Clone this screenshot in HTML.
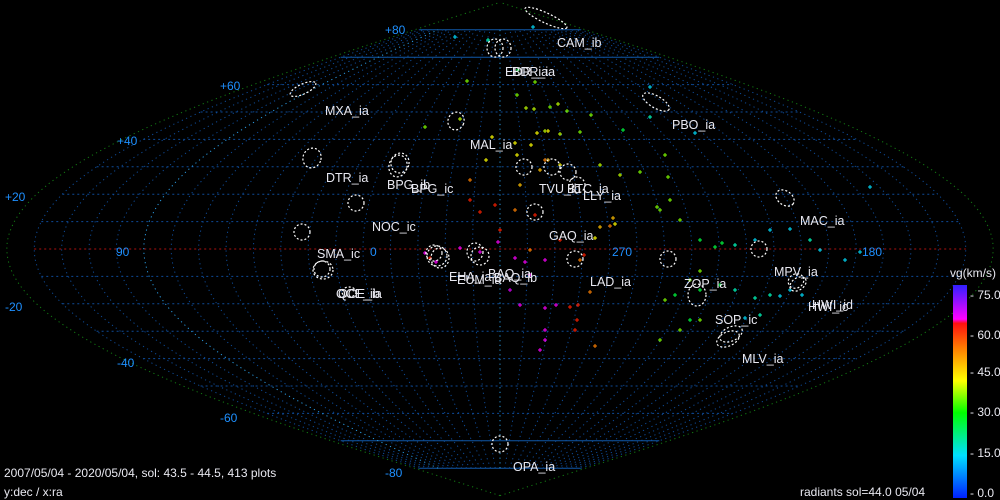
<!DOCTYPE html>
<html><head><meta charset="utf-8"><style>
html,body{margin:0;padding:0;background:#000;width:1000px;height:500px;overflow:hidden}
svg{display:block}
text{font-family:"Liberation Sans","DejaVu Sans",sans-serif}
</style></head><body>
<svg id="s" width="1000" height="500" xmlns="http://www.w3.org/2000/svg">
<defs>
<linearGradient id="cb" x1="0" y1="0" x2="0" y2="1">
<stop offset="0" stop-color="#3020ff"/>
<stop offset="0.16" stop-color="#ff00ff"/>
<stop offset="0.18" stop-color="#ff1010"/>
<stop offset="0.3" stop-color="#ff8000"/>
<stop offset="0.45" stop-color="#ffff00"/>
<stop offset="0.6" stop-color="#00ff00"/>
<stop offset="0.8" stop-color="#00e0ff"/>
<stop offset="1" stop-color="#0020ff"/>
</linearGradient>
</defs>
<g id="grid"></g>
<g id="pts"></g>
<g id="ell" fill="none" stroke="#fff" stroke-width="1.2" stroke-dasharray="2,2"></g>
<g id="lbl" fill="#e8e8f0" font-size="12.5"></g>
<g fill="#1e90ff" font-size="12">
<text x="385" y="34">+80</text><text x="220" y="90">+60</text><text x="117" y="145">+40</text><text x="5" y="201">+20</text>
<text x="5" y="311">-20</text><text x="117" y="367">-40</text><text x="220" y="422">-60</text><text x="385" y="477">-80</text>
<text x="116" y="256">90</text><text x="370" y="256">0</text><text x="612" y="256">270</text><text x="862" y="256">180</text>
</g>
<rect x="953" y="285" width="14" height="213" fill="url(#cb)"/>
<g fill="#e8e8f0" font-size="12">
<text x="950" y="277">vg(km/s)</text>
<text x="970" y="299">- 75.0</text><text x="970" y="339">- 60.0</text><text x="970" y="376">- 45.0</text>
<text x="970" y="416">- 30.0</text><text x="970" y="457">- 15.0</text><text x="970" y="497">- 0.0</text>
<text x="4" y="477">2007/05/04 - 2020/05/04,  sol: 43.5 - 44.5, 413 plots</text>
<text x="4" y="496">y:dec / x:ra</text>
<text x="800" y="496">radiants sol=44.0 05/04</text>
</g>
</svg>
<script>
var NS="http://www.w3.org/2000/svg",K=2.74,CX=500,CY=249;
function P(l,d){return [CX+l*Math.cos(d*Math.PI/180)*K,CY-d*K];}
function add(g,t,a){var e=document.createElementNS(NS,t);for(var k in a)e.setAttribute(k,a[k]);document.getElementById(g).appendChild(e);return e;}
for(var d=-80;d<=80;d+=10){var w=170*Math.cos(d*Math.PI/180)*K;
 add("grid","line",{x1:CX-w,y1:CY-d*K,x2:CX+w,y2:CY-d*K,stroke:d==0?"#b01010":(Math.abs(d)>=70?"#1058a8":"#0e4a96"),"stroke-width":1,"stroke-dasharray":d==0?"2,3":(Math.abs(d)>=70?"none":"2,3")});}
for(var l=-180;l<=180;l+=10){var s="";var lim=Math.abs(l)==180?90:80;for(var d=-lim;d<=lim;d+=2){var p=P(l,d);s+=(d==-lim?"M":"L")+p[0].toFixed(1)+","+p[1].toFixed(1);}
 var c=Math.abs(l)==180?"#137a13":"#0e4a96";
 if(l==-130||l==0)c="#2a9ae0";
 add("grid","path",{d:s,fill:"none",stroke:c,"stroke-width":1,"stroke-dasharray":"1.2,3.5"});}
var cols=["#ffff00","#c0ff00","#80ff00","#00ff40","#00ffc0","#00e0ff","#ff2000","#ff8000","#ff00ff","#e000ff","#ffc000"];
var pts=[[455,37,5],[488,40,4],[533,27,5],[518,70,3],[467,81,2],[535,82,2],[650,87,5],[517,95,2],[526,108,1],[534,109,1],[550,107,2],[558,104,1],[567,111,2],[591,115,2],[650,117,4],[425,127,2],[460,119,1],[492,137,0],[537,133,0],[545,131,1],[560,134,1],[515,143,0],[531,145,0],[548,131,0],[580,132,2],[623,130,3],[695,133,5],[486,160,0],[517,155,0],[545,160,7],[560,165,0],[600,165,1],[620,175,1],[640,172,2],[668,177,2],[670,200,2],[870,187,5],[470,200,6],[480,212,6],[495,205,6],[515,210,7],[535,215,6],[500,230,6],[530,250,7],[560,240,6],[595,238,0],[610,226,7],[615,224,0],[657,207,2],[680,220,2],[700,240,3],[715,247,3],[722,243,3],[735,245,4],[755,240,5],[770,230,5],[790,229,5],[810,240,4],[820,250,5],[845,260,5],[860,252,5],[700,271,2],[690,280,2],[700,290,3],[720,285,3],[735,290,4],[755,298,4],[770,295,4],[780,296,5],[790,290,5],[802,295,5],[760,315,4],[745,318,5],[700,320,2],[680,330,2],[660,340,2],[690,320,3],[665,300,2],[675,295,3],[460,248,8],[480,252,8],[498,242,8],[515,258,8],[525,262,8],[545,260,8],[530,275,8],[510,290,9],[520,305,8],[545,308,8],[556,305,8],[570,307,6],[578,305,6],[590,292,7],[545,330,8],[545,340,8],[540,350,8],[575,330,6],[577,320,6],[595,346,7],[425,253,8],[430,258,6],[436,262,8],[580,260,7],[584,255,6],[600,227,10],[613,218,10],[660,210,2],[665,155,2],[470,180,7],[520,185,10],[540,170,10],[548,160,10]];
pts.forEach(function(p){var c=cols[p[2]];add("pts","path",{d:"M"+(p[0]-2)+","+p[1]+"h4M"+p[0]+","+(p[1]-2)+"v4",stroke:c,"stroke-width":1});});
var E=[[495,48,8,9,0],[503,48,8,9,0],[546,18,23,5,25],[303,89,14,5,-25],[656,102,15,6,30],[456,121,8,9,20],[312,158,9,10,20],[400,163,9,10,15],[398,166,9,11,15],[524,167,8,8,0],[552,167,8,8,0],[568,172,8,8,0],[577,185,8,8,0],[785,198,10,7,35],[356,203,8,8,0],[535,212,8,8,0],[302,232,8,8,0],[437,256,10,10,0],[434,253,8,8,0],[440,258,9,10,0],[475,252,8,9,0],[480,256,9,9,0],[575,259,8,8,0],[759,249,8,8,0],[668,259,8,8,0],[322,269,8,8,0],[323,270,10,9,0],[697,295,9,11,0],[798,284,9,6,-35],[796,281,8,7,-30],[728,339,12,7,-25],[731,334,12,7,-25],[500,444,8,8,0],[349,292,7,5,0]];
E.forEach(function(e){add("ell","ellipse",{cx:e[0],cy:e[1],rx:e[2],ry:e[3],transform:"rotate("+e[4]+" "+e[0]+" "+e[1]+")"});});
var L=[["CAM_ib",557,47],["EDR_ia",505,76],["BDR_ia",512,76],["MXA_ia",325,115],["PBO_ia",672,129],["MAL_ia",470,149],["DTR_ia",326,182],["BPG_ib",387,189],["BPG_ic",411,193],["TVU_ib",539,193],["BTC_ia",567,193],["LLY_ia",583,200],["MAC_ia",800,225],["NOC_ic",372,231],["GAQ_ia",549,240],["SMA_ic",317,258],["MPV_ia",774,276],["BAQ_ia",488,278],["EHA_ia",449,281],["EUM_ia",457,284],["BAQ_ib",494,282],["LAD_ia",590,286],["ZOP_ia",684,288],["OCE_ib",336,298],["QCE_ia",338,298],["HWI_id",812,309],["HWI_ic",808,311],["SOP_ic",715,324],["MLV_ia",742,363],["OPA_ia",513,471]];
L.forEach(function(t){add("lbl","text",{x:t[1],y:t[2]}).textContent=t[0];});
</script>
</body></html>
